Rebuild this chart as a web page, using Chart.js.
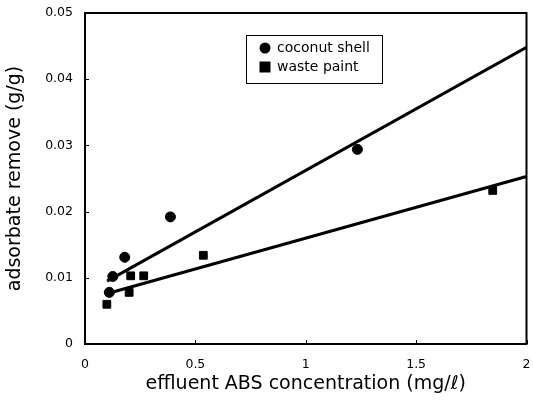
<!DOCTYPE html>
<html>
<head>
<meta charset="utf-8">
<script src="https://cdn.jsdelivr.net/npm/chart.js@4"></script>
<style>
  body { margin: 0; background: #fff; }
  #wrap { width: 533px; height: 412px; }
</style>
</head>
<body>
<div id="wrap"><canvas id="myChart" width="533" height="412"></canvas></div>
<script>
const coconutX = [0.11, 0.126, 0.18, 0.387, 1.234];
const coconutY = [0.0078, 0.0102, 0.0131, 0.0192, 0.0294];
const paintX = [0.099, 0.2, 0.207, 0.266, 0.536, 1.847];
const paintY = [0.006, 0.0078, 0.0103, 0.0103, 0.0134, 0.0232];

// fitted lines, end points
const coconutFitX = [0.1, 2];
const coconutFitY = [0.0095, 0.0448];
const paintFitX = [0.11, 2];
const paintFitY = [0.0077, 0.0253];

const seriesNames = ["coconut shell", "waste paint"];
const xTitle = "effluent ABS concentration (mg/\u2113)";
const yTitle = "adsorbate remove (g/g)";

const zip = (xs, ys) => xs.map((x, i) => ({ x: x, y: ys[i] }));

// box round the plot + small inward ticks
const framePlugin = {
  id: "frame",
  afterDraw(chart) {
    const { ctx, chartArea: a, scales } = chart;
    ctx.save();
    ctx.strokeStyle = "#000";
    ctx.lineWidth = 2;
    ctx.strokeRect(a.left, a.top, a.right - a.left, a.bottom - a.top);
    ctx.lineWidth = 1;
    ctx.beginPath();
    scales.y.ticks.forEach((t) => {
      const y = Math.round(scales.y.getPixelForValue(t.value)) + 0.5;
      ctx.moveTo(a.left, y);
      ctx.lineTo(a.left + 4, y);
    });
    scales.x.ticks.forEach((t) => {
      const x = Math.round(scales.x.getPixelForValue(t.value)) + 0.5;
      ctx.moveTo(x, a.bottom);
      ctx.lineTo(x, a.bottom - 4);
    });
    ctx.stroke();
    ctx.restore();
  },
};

// legend box inside the plot
const legendPlugin = {
  id: "boxLegend",
  afterDraw(chart) {
    const ctx = chart.ctx;
    const bx = 246, by = 35, bw = 136, bh = 48;
    ctx.save();
    ctx.fillStyle = "#fff";
    ctx.fillRect(bx, by, bw, bh);
    ctx.strokeStyle = "#000";
    ctx.lineWidth = 1;
    ctx.strokeRect(bx + 0.5, by + 0.5, bw, bh);
    ctx.fillStyle = "#000";
    ctx.beginPath();
    ctx.arc(265, 48, 5.5, 0, Math.PI * 2);
    ctx.fill();
    ctx.fillRect(259.5, 61.5, 11, 11);
    ctx.font = "14px 'DejaVu Sans'";
    ctx.textBaseline = "middle";
    ctx.fillText(seriesNames[0], 277, 48);
    ctx.fillText(seriesNames[1], 277, 67);
    ctx.restore();
  },
};

const ctx = document.getElementById("myChart").getContext("2d");
const myChart = new Chart(ctx, {
  type: "scatter",
  data: {
    datasets: [
      {
        label: "coconut fit",
        type: "line",
        data: zip(coconutFitX, coconutFitY),
        borderColor: "#000",
        borderWidth: 3,
        pointRadius: 0,
        fill: false,
      },
      {
        label: "paint fit",
        type: "line",
        data: zip(paintFitX, paintFitY),
        borderColor: "#000",
        borderWidth: 3,
        pointRadius: 0,
        fill: false,
      },
      {
        label: seriesNames[0],
        data: zip(coconutX, coconutY),
        pointStyle: "circle",
        pointRadius: 5,
        backgroundColor: "#000",
        borderColor: "#000",
      },
      {
        label: seriesNames[1],
        data: zip(paintX, paintY),
        pointStyle: "rect",
        pointRadius: 5.5,
        backgroundColor: "#000",
        borderColor: "#000",
      },
    ],
  },
  options: {
    responsive: false,
    animation: false,
    layout: { padding: { top: 13, right: 5 } },
    plugins: {
      legend: { display: false },
      tooltip: { enabled: false },
    },
    scales: {
      x: {
        type: "linear",
        min: 0,
        max: 2,
        afterFit: (s) => { s.height = 68; s.paddingLeft = 0; s.paddingRight = 0; },
        grid: { display: false, drawTicks: false },
        border: { display: false },
        ticks: {
          stepSize: 0.5,
          padding: 13,
          color: "#000",
          font: { family: "DejaVu Sans", size: 12.5 },
          callback: (v) => String(Math.round(v * 10) / 10),
        },
        title: {
          display: true,
          text: xTitle,
          color: "#000",
          font: { family: "DejaVu Sans", size: 19 },
          padding: { top: 4, bottom: 17 },
        },
      },
      y: {
        min: 0,
        max: 0.05,
        afterFit: (s) => { s.width = 85; s.paddingTop = 0; s.paddingBottom = 0; },
        grid: { display: false, drawTicks: false },
        border: { display: false },
        ticks: {
          stepSize: 0.01,
          padding: 12,
          color: "#000",
          font: { family: "DejaVu Sans", size: 12.5 },
          callback: (v) => (v === 0 ? "0" : v.toFixed(2)),
        },
        title: {
          display: true,
          text: yTitle,
          color: "#000",
          font: { family: "DejaVu Sans", size: 19 },
          padding: { top: 4, bottom: 4 },
        },
      },
    },
  },
  plugins: [framePlugin, legendPlugin],
});
</script>
</body>
</html>
